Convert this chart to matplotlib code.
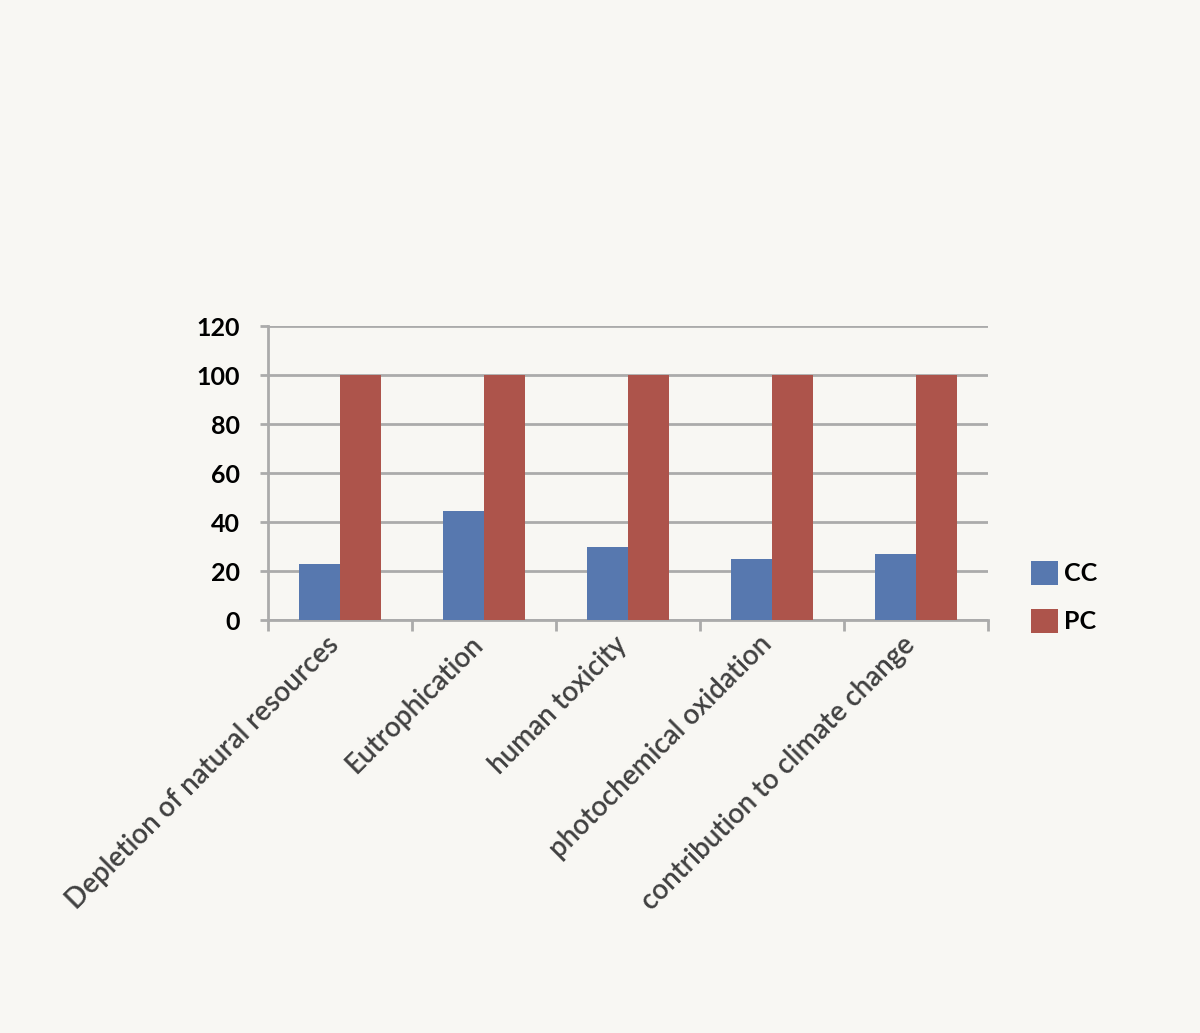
import numpy as np
import matplotlib
matplotlib.use("Agg")
import matplotlib.pyplot as plt
import matplotlib.transforms as mtransforms

# valeurs
categories = ["Depletion of natural resources", "Eutrophication", "human toxicity",
              "photochemical oxidation", "contribution to climate change"]
cc = [23, 44.6, 30, 25, 27]
pc = [100, 100, 100, 100, 100]
yticks = [0, 20, 40, 60, 80, 100, 120]

bg = "#F8F7F3"
grid_col = "#ABABAB"
plt.rcParams["font.family"] = ["Lato", "DejaVu Sans"]

fig = plt.figure(figsize=(12, 10.33), dpi=100, facecolor=bg)
ax = fig.add_axes([0.2233, 0.3998, 0.6, 0.2846])
ax.set_facecolor(bg)

x = np.arange(len(categories))
w = 0.2857
ax.bar(x - w / 2, cc, w, color="#5778AF", label="CC", zorder=3)
ax.bar(x + w / 2, pc, w, color="#AD544B", label="PC", zorder=3)

ax.set_xlim(-0.5, len(categories) - 0.5)
ax.set_ylim(0, 120)
ax.set_yticks(yticks)
ax.set_yticklabels([str(v) for v in yticks], fontsize=18, fontweight="bold", color="black")
ax.yaxis.grid(True, color=grid_col, linewidth=2, zorder=0)
ax.tick_params(axis="y", length=6, width=2, color=grid_col, pad=14)

# ticks entre les catégories
ax.set_xticks(np.arange(len(categories) + 1) - 0.5)
ax.set_xticklabels([])
ax.tick_params(axis="x", length=8, width=2, color=grid_col)
ax.set_xticks(x, minor=True)
ax.set_xticklabels(categories, minor=True, rotation=45, ha="right",
                   rotation_mode="anchor", fontsize=20, fontweight="semibold", color="#404040")
ax.tick_params(axis="x", which="minor", length=0, pad=8)
decal = mtransforms.ScaledTranslation(-14 / 100, 0, fig.dpi_scale_trans)
for lab in ax.get_xticklabels(minor=True):
    lab.set_transform(lab.get_transform() + decal)

for s in ["top", "right"]:
    ax.spines[s].set_visible(False)
ax.spines["left"].set_color(grid_col)
ax.spines["left"].set_linewidth(2)
ax.spines["bottom"].set_color(grid_col)
ax.spines["bottom"].set_linewidth(2)

leg = ax.legend(loc="center left", bbox_to_anchor=(0.840, 0.422), bbox_transform=fig.transFigure,
                frameon=False, prop={"size": 18, "weight": "bold"},
                handlelength=1.1, handleheight=1.1, labelspacing=0.95, handletextpad=0.25)

fig.savefig("out.png", dpi=100, facecolor=bg)
